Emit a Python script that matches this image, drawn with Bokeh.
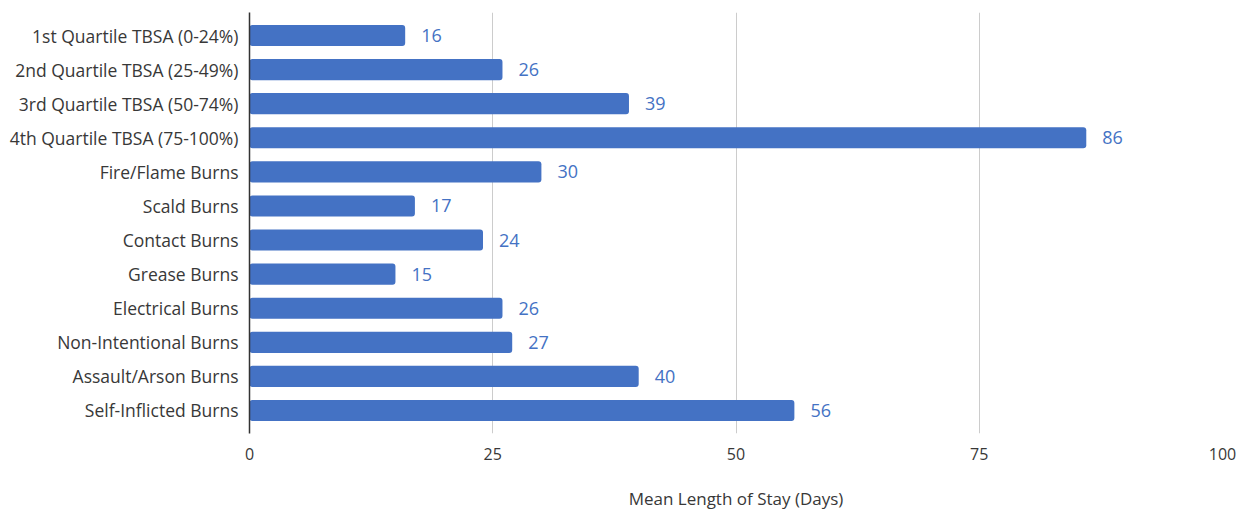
from bokeh.plotting import figure
from bokeh.models import ColumnDataSource, FactorRange, Range1d, FixedTicker, LabelSet
from bokeh.core.properties import value
from bokeh.embed import file_html
from bokeh.resources import INLINE

categories = [
    "1st Quartile TBSA (0-24%)",
    "2nd Quartile TBSA (25-49%)",
    "3rd Quartile TBSA (50-74%)",
    "4th Quartile TBSA (75-100%)",
    "Fire/Flame Burns",
    "Scald Burns",
    "Contact Burns",
    "Grease Burns",
    "Electrical Burns",
    "Non-Intentional Burns",
    "Assault/Arson Burns",
    "Self-Inflicted Burns",
]
mean_los = [16, 26, 39, 86, 30, 17, 24, 15, 26, 27, 40, 56]
x_ticks = [0, 25, 50, 75, 100]

BAR = "#4472C4"
TEXT = "#383838"
FONT = "Open Sans"

source = ColumnDataSource(dict(
    cat=categories,
    val=mean_los,
    lbl=[str(v) for v in mean_los],
))

p = figure(
    width=1243, height=512,
    y_range=FactorRange(factors=list(reversed(categories)),
                        range_padding=0.175, range_padding_units="absolute"),
    x_range=Range1d(0, 100),
    output_backend="svg", toolbar_location=None,
    min_border_left=249, min_border_right=21,
    min_border_top=12, min_border_bottom=0,
)

p.hbar(y="cat", right="val", left=0, height=0.62, source=source,
       fill_color=BAR, line_color=None, border_radius=3)

labels = LabelSet(x="val", y="cat", text="lbl", source=source,
                  x_offset=16, text_baseline="middle", text_align="left",
                  text_font=value(FONT), text_font_size="18px", text_color=BAR)
p.add_layout(labels)

p.outline_line_color = None
p.background_fill_color = "white"
p.border_fill_color = "white"

# x axis: grid lines and labels only
p.xaxis.ticker = FixedTicker(ticks=x_ticks)
p.xaxis.axis_line_color = None
p.xaxis.major_tick_line_color = None
p.xaxis.minor_tick_line_color = None
p.xaxis.major_label_text_font = FONT
p.xaxis.major_label_text_font_size = "16px"
p.xaxis.major_label_text_color = TEXT
p.xaxis.major_label_standoff = 8
p.xaxis.axis_label = "Mean Length of Stay (Days)"
p.xaxis.axis_label_text_font = FONT
p.xaxis.axis_label_text_font_size = "17px"
p.xaxis.axis_label_text_font_style = "normal"
p.xaxis.axis_label_text_color = TEXT
p.xaxis.axis_label_standoff = 24

p.xgrid.grid_line_color = "#cccccc"
p.xgrid.grid_line_width = 1
p.ygrid.grid_line_color = None

# y axis: category names with a dark baseline
p.yaxis.axis_line_color = "#333333"
p.yaxis.axis_line_width = 1.5
p.yaxis.major_tick_line_color = None
p.yaxis.minor_tick_line_color = None
p.yaxis.major_label_text_font = FONT
p.yaxis.major_label_text_font_size = "17.5px"
p.yaxis.major_label_text_color = TEXT
p.yaxis.major_label_standoff = 5

open("out.html", "w").write(file_html(p, INLINE))
